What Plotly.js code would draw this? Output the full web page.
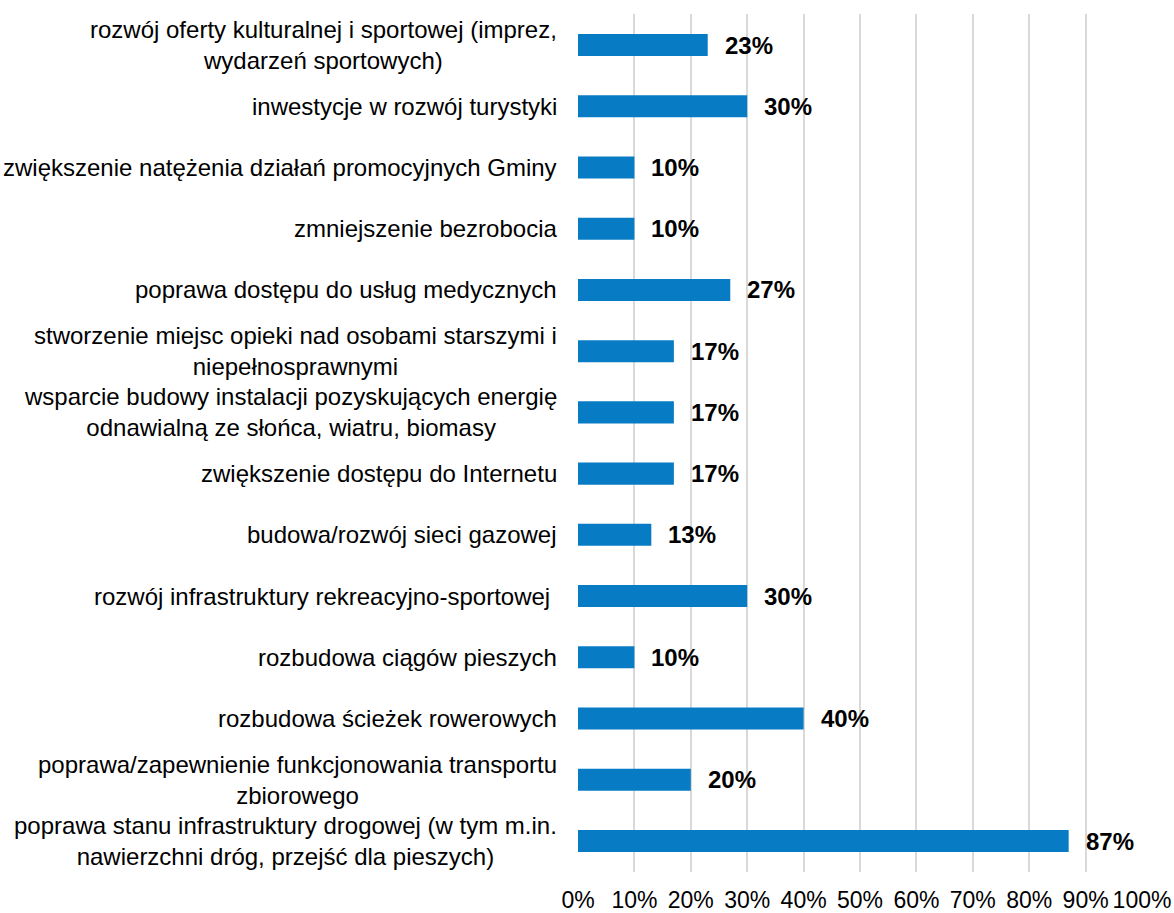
<!DOCTYPE html>
<html>
<head>
<meta charset="utf-8">
<script src="https://cdn.plot.ly/plotly-3.0.1.min.js"></script>
<style>body{margin:0;padding:0;background:#fff;}#chart{width:1174px;height:913px;}</style>
</head>
<body>
<div id="chart"></div>
<script>
const categories = [
  "rozwój oferty kulturalnej i sportowej (imprez,<br>wydarzeń sportowych)",
  "inwestycje w rozwój turystyki",
  "zwiększenie natężenia działań promocyjnych Gminy",
  "zmniejszenie bezrobocia",
  "poprawa dostępu do usług medycznych",
  "stworzenie miejsc opieki nad osobami starszymi i<br>niepełnosprawnymi",
  "wsparcie budowy instalacji pozyskujących energię<br>odnawialną ze słońca, wiatru, biomasy",
  "zwiększenie dostępu do Internetu",
  "budowa/rozwój sieci gazowej",
  "rozwój infrastruktury rekreacyjno-sportowej ",
  "rozbudowa ciągów pieszych",
  "rozbudowa ścieżek rowerowych",
  "poprawa/zapewnienie funkcjonowania transportu<br>zbiorowego",
  "poprawa stanu infrastruktury drogowej (w tym m.in.<br>nawierzchni dróg, przejść dla pieszych)"
];
const values = [23, 30, 10, 10, 27, 17, 17, 17, 13, 30, 10, 40, 20, 87];
const valueLabels = ["23%", "30%", "10%", "10%", "27%", "17%", "17%", "17%", "13%", "30%", "10%", "40%", "20%", "87%"];
const tickVals = [0, 10, 20, 30, 40, 50, 60, 70, 80, 90, 100];
const tickText = ["0%", "10%", "20%", "30%", "40%", "50%", "60%", "70%", "80%", "90%", "100%"];

const ids = categories.map((c, i) => "c" + i);
const FONT = "Liberation Sans, Arial, sans-serif";

const annotations = [];
categories.forEach((c, i) => {
  annotations.push({
    x: 0, xref: "paper", y: ids[i], yref: "y",
    text: c, showarrow: false, xanchor: "right", yanchor: "middle",
    xshift: -19, align: "center",
    font: {family: FONT, size: 24, color: "#000"}
  });
  annotations.push({
    x: values[i], xref: "x", y: ids[i], yref: "y",
    text: "<b>" + valueLabels[i] + "</b>", showarrow: false,
    xanchor: "left", yanchor: "middle", xshift: 15,
    font: {family: FONT, size: 24, color: "#000"}
  });
});

Plotly.newPlot("chart", [{
  type: "bar",
  orientation: "h",
  x: values,
  y: ids,
  marker: {color: "#077cc4"},
  hoverinfo: "none"
}], {
  width: 1174, height: 913,
  margin: {l: 578, r: 32, t: 14, b: 41},
  paper_bgcolor: "#fff", plot_bgcolor: "#fff",
  bargap: 0.64,
  showlegend: false,
  xaxis: {
    range: [0, 100], tickvals: tickVals, ticktext: tickText,
    showgrid: true, gridcolor: "#d9d9d9", gridwidth: 2,
    zeroline: false, showline: false,
    ticks: "outside", ticklen: 7, tickcolor: "rgba(0,0,0,0)",
    tickfont: {family: FONT, size: 23, color: "#000"}
  },
  yaxis: {
    autorange: "reversed", showticklabels: false, showgrid: false,
    zeroline: false, showline: false, ticks: ""
  },
  annotations: annotations
}, {displayModeBar: false, staticPlot: true});
</script>
</body>
</html>
